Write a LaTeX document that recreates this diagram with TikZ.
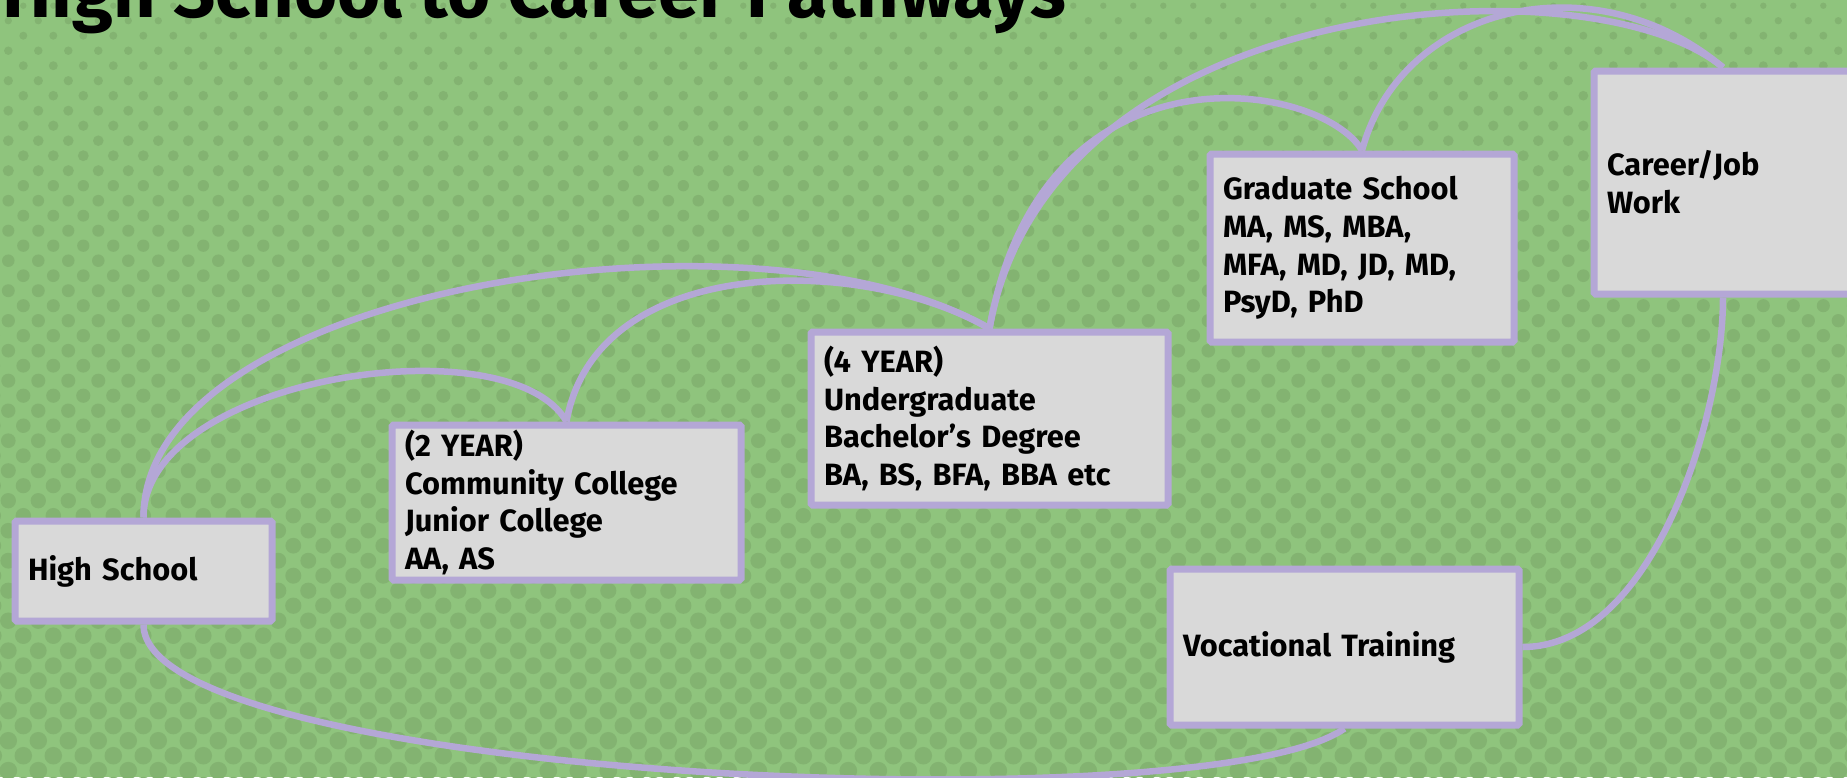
\documentclass[tikz,border=0pt]{standalone}
\usepackage{fontspec}
\setmainfont{Fira Sans}
\usepackage{tikz}
\definecolor{bg_green}{RGB}{143,196,125}
\definecolor{dot_green}{RGB}{131,179,113}
\definecolor{box_gray}{RGB}{217,217,217}
\definecolor{lav}{RGB}{180,167,214}

\tikzset{
  pbox/.style={draw=lav, line width=3.5pt, fill=box_gray, rounded corners=0.75pt,
    anchor=north west, align=left, inner xsep=6.5pt, inner ysep=0pt,
    font=\fontsize{15.4}{18.85}\selectfont\bfseries},
  link/.style={draw=lav, line width=3.25pt}
}

\begin{document}
\begin{tikzpicture}[x=0.5pt,y=0.5pt]

 \useasboundingbox (0,0) rectangle (1847,-777);
 \clip (0,0) rectangle (1847,-777);
 \fill[bg_green] (0,0) rectangle (1847,-777);

 % dotted backdrop, dots grow towards the bottom
 \foreach \r [evaluate=\r as \rad using {0.5*(2.65+0.2235*sqrt(5.7+15*\r))}] in {0,...,52}{
   \foreach \c in {-1,...,61}{
     \fill[dot_green] ({\c*30+23.3-15*mod(\r,2)},{-5.7-15*\r}) circle (\rad pt);
   }
 }

 \node[anchor=base west, inner sep=0pt, font=\fontsize{37}{40}\selectfont\bfseries] (title) at (2,-17) {High School to Career Pathways};

 \node[pbox, text width=115.5pt, minimum height=50pt] (hs) at (11.5,-517.5) {High School};
 \node[pbox, text width=161.5pt, minimum height=77.5pt] (two) at (388.5,-421.5) {(2 YEAR)\\Community College\\Junior College\\AA, AS};
 \node[pbox, text width=165.5pt, minimum height=86.5pt] (four) at (807.5,-328.5) {(4 YEAR)\\Undergraduate\\Bachelor’s Degree\\BA, BS, BFA, BBA etc};
 \node[pbox, text width=139pt, minimum height=94pt] (grad) at (1206.5,-150.5) {Graduate School\\MA, MS, MBA,\\MFA, MD, JD, MD,\\PsyD, PhD};
 \node[pbox, text width=116pt, minimum height=111.5pt] (career) at (1590.5,-67.5) {Career/Job\\Work};
 \node[pbox, text width=161.5pt, minimum height=78pt] (voc) at (1166.5,-565.5) {Vocational Training};

 \draw[link] (hs.north) to[out=90, in=120, out distance=70pt, in distance=57.5pt] (two.north);
 \draw[link] (hs.north) to[out=90, in=150, out distance=115pt, in distance=135pt] (four.north);
 \draw[link] (two.north) to[out=80, in=150, out distance=85pt, in distance=75pt] (four.north);
 \draw[link] (four.north) to[out=80, in=120, out distance=150pt, in distance=40pt] (grad.north);
 \draw[link] (four.north) to[out=80, in=140, out distance=172.5pt, in distance=85pt] (career.north);
 \draw[link] (grad.north) to[out=75, in=140, out distance=75pt, in distance=85pt] (career.north);
 \draw[link] (career.south) to[out=-90, in=0, out distance=60pt, in distance=65pt] (voc.east);
 \draw[link] (hs.south) to[out=-90, in=-145, out distance=77.5pt, in distance=85pt] (voc.south);

\end{tikzpicture}
\end{document}
